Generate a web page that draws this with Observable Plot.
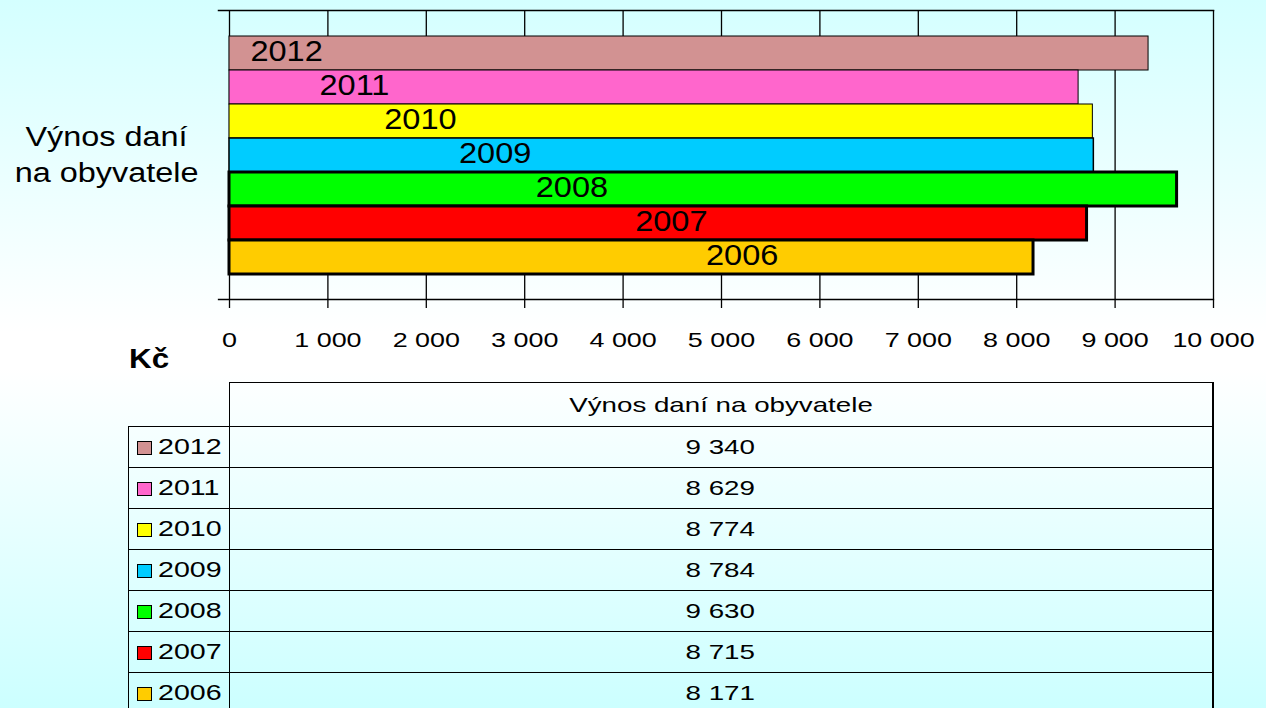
<!DOCTYPE html>
<html>
<head>
<meta charset="utf-8">
<script src="https://cdn.jsdelivr.net/npm/d3@7"></script>
<script src="https://cdn.jsdelivr.net/npm/@observablehq/plot@0.6"></script>
<style>
  html, body { margin: 0; padding: 0; }
  body {
    width: 1266px; height: 708px; overflow: hidden;
    background: linear-gradient(to bottom, #d4ffff 0%, #ffffff 47%, #ffffff 52%, #ccffff 100%);
    font-family: "Liberation Sans", Arial, sans-serif; color: #000;
  }
  #wrap { position: relative; width: 1266px; height: 708px; }
  #chart { position: absolute; left: 0; top: 0; }
  #cat { position: absolute; left: 0; top: 119px; width: 214px; text-align: center;
         font-size: 27px; line-height: 36px; }
  #cat span { display: inline-block; transform: scaleX(1.2); transform-origin: center; }
  #unit { position: absolute; left: 129px; top: 345px; font-size: 28px; line-height: 1; font-weight: bold; }
  #unit span { display: inline-block; transform: scaleX(1.12); transform-origin: left; }
  table { position: absolute; left: 128px; top: 382px; border-collapse: collapse; table-layout: fixed; width: 1086px; }
  td { border: 1px solid #000; padding: 0; height: 40px; }
  tr.head td { height: 43px; text-align: center; font-size: 21px; }
  td.yr { width: 100px; font-size: 22px; white-space: nowrap; }
  td.val { text-align: center; font-size: 21px; border-right: 2px solid #000; }
  td.blank { border: none; }
  .sw { display: inline-block; width: 13px; height: 12px; border: 1.5px solid #000; margin-left: 8px; margin-right: 6px; vertical-align: -1px; }
  .yt { display: inline-block; transform: scaleX(1.3); transform-origin: left; }
  .ct { display: inline-block; transform: scaleX(1.32); transform-origin: center; }
</style>
</head>
<body>
<div id="wrap"></div>
<script>
// ---- data ----
const years = ["2012", "2011", "2010", "2009", "2008", "2007", "2006"];
const values = [9340, 8629, 8774, 8784, 9630, 8715, 8171];
const labelAt = [580, 1270, 1940, 2700, 3480, 4490, 5210];   // where each year label sits along the bar (Kč)
const xTicks = [0, 1000, 2000, 3000, 4000, 5000, 6000, 7000, 8000, 9000, 10000];
const category = "Výnos daní na obyvatele";
const unit = "Kč";

// ---- styles ----
const palette = ["#d29292", "#ff66cc", "#ffff00", "#00ccff", "#00ff00", "#ff0000", "#ffcc00"];
const outline = [1, 1, 1, 1.5, 3, 3, 3];

const rows = years.map((y, i) => ({year: y, value: values[i], label: labelAt[i], w: outline[i]}));
const fmt = d3.formatLocale({decimal: ",", thousands: "\u00a0", grouping: [3], currency: ["", ""]}).format(",d");

const wrap = document.getElementById("wrap");

const chart = Plot.plot({
  width: 1266,
  height: 360,
  marginTop: 10,
  marginBottom: 61,
  marginLeft: 229,
  marginRight: 53,
  style: {background: "transparent", fontFamily: "'Liberation Sans', Arial, sans-serif", fontSize: "21px", color: "#000"},
  x: {domain: [0, 10000]},
  y: {domain: years, paddingInner: 0, paddingOuter: 0.75, axis: null},
  color: {domain: years, range: palette},
  marks: [
    Plot.gridX(xTicks, {stroke: "#000", strokeOpacity: 1, strokeWidth: 1.3}),
    Plot.frame({anchor: "top", insetLeft: -11, stroke: "#000", strokeWidth: 1.5}),
    Plot.frame({anchor: "bottom", insetLeft: -11, stroke: "#000", strokeWidth: 1.3}),
    Plot.barX(rows, {x: "value", y: "year", fill: "year", stroke: "#000", strokeWidth: "w"}),
    Plot.text(rows, {x: "label", y: "year", text: "year", fontSize: 29, fill: "#000", dy: -2}),
    Plot.axisX({ticks: xTicks, tickSize: 9, tickPadding: 24, tickFormat: fmt, stroke: "#000", strokeWidth: 1.3})
  ]
});
chart.id = "chart";
wrap.append(chart);

function stretch(selector, k) {
  for (const t of chart.querySelectorAll(selector)) {
    const w = t.getComputedTextLength();
    if (w > 0) {
      t.setAttribute("textLength", (w * k).toFixed(1));
      t.setAttribute("lengthAdjust", "spacingAndGlyphs");
    }
  }
}
stretch('g[aria-label="x-axis tick label"] text', 1.28);
stretch('g[aria-label="text"] text', 1.12);

// category label (left)
const cat = document.createElement("div");
cat.id = "cat";
const parts = category.split(" na ");
cat.innerHTML = `<span>${parts[0]}</span><br><span>na ${parts[1]}</span>`;
wrap.append(cat);

// unit
const u = document.createElement("div");
u.id = "unit";
u.innerHTML = `<span>${unit}</span>`;
wrap.append(u);

// data table
const table = d3.select(wrap).append("table");
const head = table.append("tr").attr("class", "head");
head.append("td").attr("class", "yr blank");
head.append("td").attr("class", "val").append("span").attr("class", "ct").text(category);
const tr = table.selectAll("tr.row").data(rows).join("tr").attr("class", "row");
const yc = tr.append("td").attr("class", "yr");
yc.append("span").attr("class", "sw").style("background", (d, i) => palette[i]);
yc.append("span").attr("class", "yt").text(d => d.year);
tr.append("td").attr("class", "val").append("span").attr("class", "ct").text(d => fmt(d.value));
</script>
</body>
</html>
